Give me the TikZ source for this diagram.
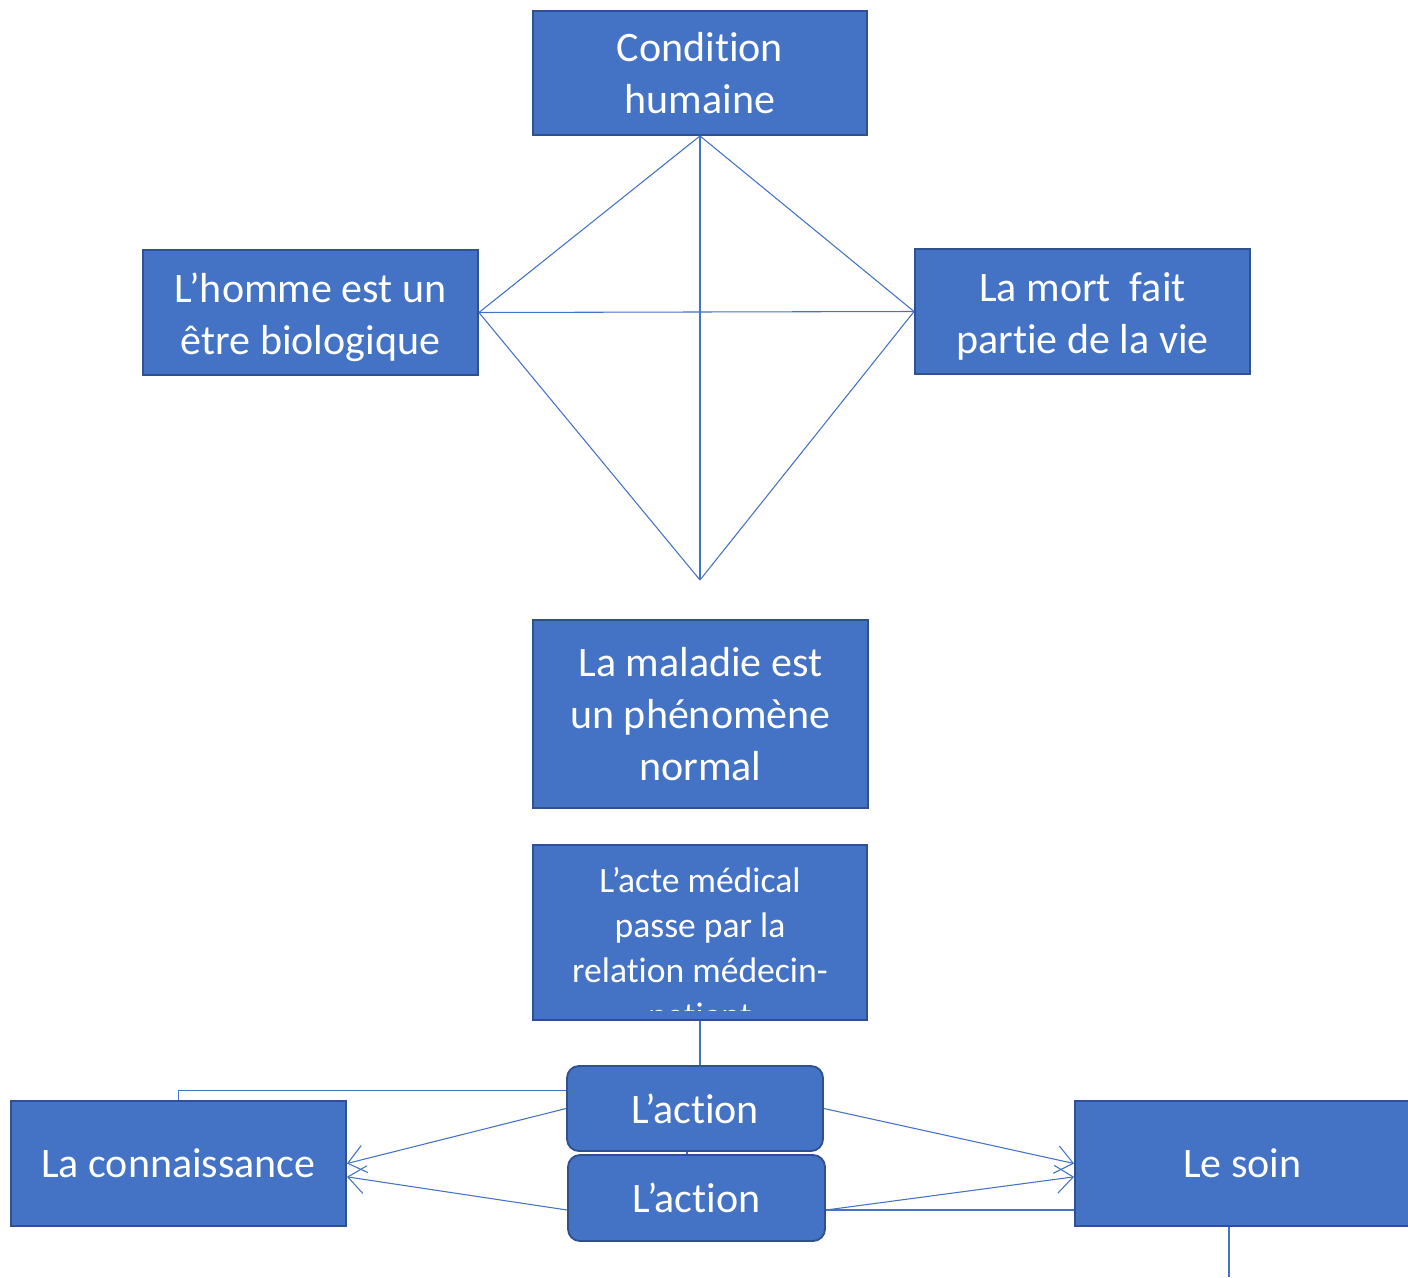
\documentclass[tikz,border=0pt]{standalone}
\usepackage{fontspec}
\setmainfont{Carlito}[RawFeature={-liga;-clig;-dlig;-calt}]
\usetikzlibrary{arrows.meta,calc}
\definecolor{boxfill}{HTML}{4472C4}
\definecolor{boxline}{HTML}{2F528F}
\definecolor{conn}{HTML}{4472C4}
\newcommand{\noti}{t\kern0pt i}
\begin{document}
\begin{tikzpicture}[x=0.75pt,y=-0.75pt,
  box/.style={draw=boxline,fill=boxfill,line width=1.4pt,inner sep=0pt,
    text=white,align=center,font=\fontsize{31.5}{39}\selectfont},
  rbox/.style={box,rounded corners=9pt},
  lower/.style={text height=68.5pt},
  link/.style={draw=conn,line width=0.8pt},
  arr/.style={link,-{Straight Barb[length=13pt,width=21pt,line width=0.8pt]}}]
\useasboundingbox (0,0) rectangle (1408,1277);

% boxes
\node[box,minimum width=250.5pt,minimum height=93pt] (cond) at (700,73) {Condi\noti on\\humaine};
\node[box,lower,minimum width=251.25pt,minimum height=93.75pt] (homme) at (310.5,312.5) {L’homme est un\\être biologique};
\node[box,lower,minimum width=251.25pt,minimum height=93.75pt] (mort) at (1082.5,311.5) {La mort\ \ fait\\par\noti e de la vie};
\node[box,minimum width=251.25pt,minimum height=141pt] (mal) at (700.5,714) {La maladie est\\un phénomène\\normal};
\node[box,minimum width=250.5pt,minimum height=131.25pt] (acte) at (700,932.5) {};
\begin{scope}
  \clip (535,847) rectangle (865,1010);
  \node[text=white,align=center,inner sep=0pt,font=\fontsize{26.7}{33.75}\selectfont] (actetxt) at (700,950) {L’acte médical\\passe par la\\rela\noti on médecin-\\pa\noti ent};
\end{scope}
\node[rbox,minimum width=192pt,minimum height=63.75pt] (act1) at (695,1108.5) {L’ac\noti on};
\node[rbox,minimum width=192.75pt,minimum height=64.5pt] (act2) at (696.5,1198) {L’ac\noti on};
\node[box,minimum width=251.25pt,minimum height=93.75pt] (connais) at (178.5,1163.5) {La connaissance};
\node[box,minimum width=251.25pt,minimum height=93.75pt] (soin) at (1242.5,1163.5) {Le soin};

% diamond
\coordinate (bot) at (700,580);
\draw[link] (cond.south) -- (homme.east);
\draw[link] (cond.south) -- (mort.west);
\draw[link] (cond.south) -- (bot);
\draw[link] (homme.east) -- (mort.west);
\draw[link] (homme.east) -- (bot);
\draw[link] (mort.west) -- (bot);

% lower connectors
\draw[link] (acte.south) -- (acte.south |- act1.north);
\draw[link] ([yshift=13.5pt]act1.west) -| (connais.north);
\draw[arr] (act1.west) -- (connais.east);
\draw[arr] ([yshift=-9pt]act2.west) -- ([yshift=-10pt]connais.east);
\draw[arr] (act1.east) -- (soin.west);
\draw[arr] ([yshift=-9pt]act2.east) -- ([yshift=-10pt]soin.west);
\coordinate (a2r) at ([yshift=-9pt]act2.east);
\draw[link] (a2r) -- (a2r -| soin.west);
\coordinate (soinend) at (1229,1277);
\draw[link] (soinend |- soin.south) -- (soinend);
\coordinate (mid) at (687,1150);
\draw[link] (mid |- act1.south) -- (mid |- act2.north);
\end{tikzpicture}
\end{document}
